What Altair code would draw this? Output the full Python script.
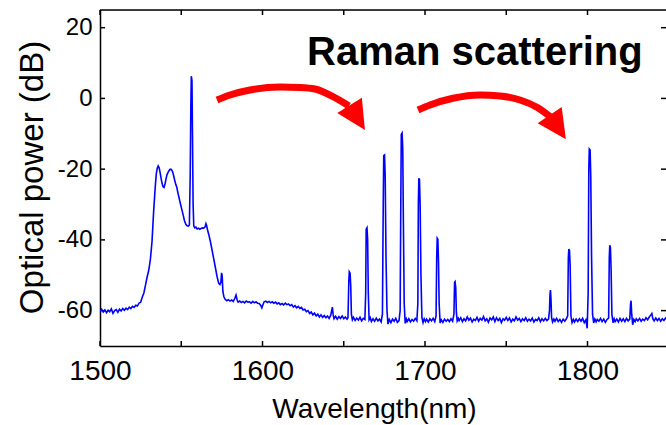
import altair as alt
import pandas as pd

FONT = "Liberation Sans"

# ---------------- data (wavelength nm, power dB) ----------------
pump_region = [
    (1500, -60.2), (1501, -59.6), (1502, -60.4), (1503, -59.8), (1504, -60.6), (1505, -59.9),
    (1506, -60.3), (1507, -59.5), (1508, -60.8), (1509, -60.0), (1510, -59.7), (1511, -60.5),
    (1512, -59.6), (1513, -60.1), (1514, -59.4), (1515, -59.9), (1516, -59.3), (1517, -59.7),
    (1518, -59.0), (1519, -59.4), (1520, -58.8), (1521, -59.1), (1522, -58.5), (1523, -58.7),
    (1524, -57.9), (1525, -57.6), (1526, -56.2), (1527, -55.0), (1528, -52.8), (1529, -50.5),
    (1530, -48.6), (1531, -45.5), (1532, -40.5), (1533, -32.0), (1534, -25.0), (1534.6, -21.5),
    (1535.2, -19.8), (1535.8, -19.1), (1536.4, -19.6), (1537, -21.0), (1537.6, -22.6),
    (1538.2, -24.0), (1538.8, -25.0), (1539.4, -25.2), (1540, -24.2), (1540.6, -22.8),
    (1541.2, -21.6), (1541.8, -21.0), (1542.4, -20.5), (1543, -20.1), (1543.6, -20.0),
    (1544.2, -20.3), (1544.8, -20.9), (1545.4, -22.0), (1546, -23.2), (1546.6, -24.3),
    (1547.2, -25.0), (1548, -26.8), (1548.8, -28.4), (1549.6, -30.0), (1550.4, -31.5),
    (1551.2, -33.0), (1552, -34.6), (1552.8, -35.6), (1553.6, -36.0), (1554.4, -36.1),
    (1555.0, -35.8), (1555.5, -22.0), (1555.9, -2.0), (1556.2, 6.3), (1556.6, 5.0),
    (1556.9, -10.0), (1557.3, -30.0), (1557.7, -36.0), (1558.3, -36.6), (1559, -36.4),
    (1559.8, -36.9), (1560.6, -36.7), (1561.4, -37.0), (1562.2, -36.8), (1563, -36.6),
    (1563.8, -36.7), (1564.6, -36.4), (1565.2, -35.4), (1565.6, -35.9), (1566.2, -37.2),
    (1567, -38.6), (1568, -40.6), (1569, -43.0), (1570, -45.4), (1571, -47.8), (1572, -50.3),
    (1573, -52.2), (1573.8, -52.6), (1574.4, -52.0), (1574.8, -49.3), (1575.2, -50.2),
    (1575.6, -54.5), (1576.2, -56.0), (1577, -56.8), (1578, -57.2), (1579, -56.9),
    (1580, -57.3), (1581, -57.0), (1582, -57.4), (1583, -56.5), (1583.7, -55.6),
    (1584.4, -57.0), (1585, -57.6), (1586, -57.3), (1587, -57.7), (1588, -57.4),
    (1589, -57.8), (1590, -57.3), (1591, -57.6), (1592, -57.5), (1593, -57.9), (1594, -57.4),
    (1595, -57.8), (1596, -57.5), (1597, -57.9), (1598, -58.0), (1599, -58.6),
    (1599.6, -59.2), (1600.2, -58.4), (1601, -57.5), (1602, -57.3), (1603, -57.7),
]

mid_baseline = [
    (1604, -57.4), (1605, -57.8), (1606, -57.5), (1607, -57.9), (1608, -57.6), (1609, -58.1),
    (1610, -57.8), (1611, -58.3), (1612, -58.0), (1613, -58.4), (1614, -57.9), (1615, -58.3),
    (1616, -58.1), (1617, -58.6), (1618, -58.3), (1619, -59.0), (1620, -58.6), (1621, -59.2),
    (1622, -58.8), (1623, -59.4), (1624, -59.1), (1625, -59.8), (1626, -59.6), (1627, -60.3),
    (1628, -60.0), (1629, -60.8), (1630, -60.4), (1631, -61.2), (1632, -60.7), (1633, -61.5),
    (1634, -61.0), (1635, -61.8), (1636, -61.2), (1637, -61.9), (1638, -61.4), (1639, -62.0),
    (1640, -61.5), (1641, -62.2), (1642, -61.3), (1643, -59.0), (1643.5, -61.2), (1644, -62.3),
    (1645, -61.6), (1646, -62.4), (1647, -61.7), (1648, -62.2), (1649, -61.5), (1650, -62.3),
    (1651, -61.8), (1652, -62.4),
]

stokes_1 = [
    (1652.6, -62.0), (1653.1, -52.0), (1653.4, -49.0), (1653.9, -49.4), (1654.3, -53.0),
    (1654.7, -61.0), (1655.3, -62.6), (1656, -61.9), (1657, -62.8), (1658, -62.1),
    (1659, -62.7), (1660, -61.9), (1661, -62.9), (1662, -62.2), (1663, -62.5),
    (1663.5, -55.0), (1663.8, -37.0), (1664.3, -36.6), (1664.7, -40.0), (1665.1, -55.0),
    (1665.6, -62.6), (1666.3, -62.0), (1667, -63.1), (1668, -62.3), (1669, -63.0),
    (1670, -62.1), (1671, -62.9), (1672, -62.4), (1673, -63.2), (1673.8, -61.0),
    (1674.3, -30.0), (1674.6, -16.2), (1675.1, -16.0), (1675.5, -22.0), (1676.0, -45.0),
    (1676.6, -60.0), (1677.2, -63.8), (1678, -62.5), (1679, -63.4), (1680, -62.4),
    (1681, -63.0), (1682, -62.2), (1683, -63.3), (1684, -62.8), (1684.7, -60.0),
    (1685.1, -30.0), (1685.4, -10.2), (1685.9, -9.8), (1686.3, -14.0), (1686.7, -35.0),
    (1687.2, -58.0), (1687.8, -63.6), (1688.5, -62.4), (1689, -63.1), (1690, -62.3),
    (1691, -63.2), (1692, -62.5), (1693, -63.0), (1694, -62.2), (1695, -62.9),
    (1695.6, -58.0), (1695.9, -30.0), (1696.2, -22.6), (1696.6, -23.0), (1697.0, -30.0),
    (1697.5, -50.0), (1698.1, -62.0), (1698.8, -63.4), (1699.5, -62.3), (1700.3, -63.1),
    (1701, -62.4), (1702, -63.2), (1703, -62.3), (1704, -62.9), (1705, -62.2),
    (1706, -63.1), (1706.8, -61.5), (1707.2, -45.0), (1707.5, -39.5), (1707.9, -39.8),
    (1708.3, -46.0), (1708.7, -58.0), (1709.3, -63.5), (1710, -62.6), (1711, -63.3),
    (1712, -62.4), (1713, -63.0), (1714, -62.5), (1715, -63.1), (1716, -62.3),
    (1717, -63.0), (1717.8, -61.0), (1718.2, -52.0), (1718.5, -51.8), (1718.9, -53.5),
    (1719.3, -60.5), (1719.8, -62.9), (1720.5, -62.2),
]

gap_baseline = [
    (1721, -62.8), (1722, -62.0), (1723, -63.1), (1724, -62.3), (1725, -62.9), (1726, -61.8),
    (1727, -62.7), (1728, -62.1), (1729, -63.2), (1730, -62.4), (1731, -62.8), (1732, -61.9),
    (1733, -63.0), (1734, -62.2), (1735, -62.7), (1736, -61.7), (1737, -62.9), (1738, -62.3),
    (1739, -63.3), (1740, -62.1), (1741, -62.6), (1742, -61.8), (1743, -63.1), (1744, -62.0),
    (1745, -62.8), (1746, -62.2), (1747, -63.4), (1748, -62.3), (1749, -62.7), (1750, -61.9),
    (1751, -62.8), (1752, -62.1), (1753, -63.2), (1754, -62.4), (1755, -62.9), (1756, -61.8),
    (1757, -62.7), (1758, -62.2), (1759, -63.1), (1760, -62.3), (1761, -62.8), (1762, -62.0),
    (1763, -63.0), (1764, -62.4), (1765, -62.9), (1766, -62.1), (1767, -63.2), (1768, -62.5),
    (1769, -62.8), (1770, -62.0), (1771, -63.1), (1772, -62.3), (1773, -62.9), (1774, -62.2),
    (1775, -62.8), (1776, -62.4),
]

stokes_2 = [
    (1776.6, -60.0), (1776.9, -55.5), (1777.2, -54.2), (1777.5, -56.5), (1777.9, -62.0),
    (1778.5, -63.2), (1779.3, -62.4), (1780, -63.0), (1781, -62.2), (1782, -63.1),
    (1783, -62.5), (1784, -63.3), (1785, -62.4), (1786, -63.0), (1787, -62.3),
    (1787.8, -61.5), (1788.2, -45.0), (1788.5, -42.6), (1788.9, -43.0), (1789.3, -47.0),
    (1789.8, -61.5), (1790.5, -63.4), (1791.3, -62.5), (1792, -63.2), (1793, -62.4),
    (1794, -63.1), (1795, -62.3), (1796, -63.0), (1797, -62.2), (1798, -63.4),
    (1799, -62.6), (1799.8, -65.0), (1800.4, -55.0), (1800.8, -20.0), (1801.1, -14.3),
    (1801.6, -14.6), (1802.0, -22.0), (1802.5, -45.0), (1803.1, -61.0), (1803.8, -63.5),
    (1804.5, -62.4), (1805.3, -63.2), (1806, -62.5), (1807, -63.0), (1808, -62.2),
    (1809, -63.1), (1810, -62.4), (1811, -63.3), (1812, -62.5), (1813, -62.1),
    (1813.4, -45.0), (1813.7, -41.5), (1814.1, -42.2), (1814.5, -48.0), (1815.0, -61.0),
    (1815.7, -63.4), (1816.4, -62.3), (1817, -63.1), (1818, -62.4), (1819, -63.2),
    (1820, -62.2), (1821, -63.0), (1822, -62.3), (1823, -63.1), (1824, -62.2),
    (1825, -62.9), (1826, -62.4), (1826.5, -58.0), (1826.8, -57.2), (1827.2, -61.0),
    (1827.8, -64.0), (1828.5, -62.5), (1829.3, -63.1), (1830, -62.3), (1831, -62.9),
    (1832, -62.2), (1833, -63.0), (1834, -62.4), (1835, -62.8), (1836, -62.0),
    (1837, -62.6), (1838, -61.8), (1839, -61.2), (1839.6, -60.8), (1840.2, -62.3),
    (1841, -62.9), (1842, -62.1), (1843, -62.8), (1844, -62.2), (1845, -63.0),
    (1846, -62.3), (1847, -62.8), (1848, -62.1), (1849, -62.7), (1850, -62.2),
]

x_label_ticks = [1500, 1600, 1700, 1800]
x_all_ticks = [1500, 1550, 1600, 1650, 1700, 1750, 1800]
y_ticks = [-60, -40, -20, 0, 20]

# annotation arrows (data coordinates)
arrow1_wl = [1572.0, 1580.0, 1592.3, 1610.8, 1623.1, 1632.3, 1643.4, 1653.2]
arrow1_db = [-0.45, 0.97, 2.38, 3.23, 3.09, 2.67, 0.49, -2.14]
arrow2_wl = [1695.7, 1703.1, 1717.2, 1733.8, 1746.2, 1758.5, 1768.9, 1776.9]
arrow2_db = [-3.27, -1.86, 0.04, 0.97, 0.69, -0.45, -2.51, -5.11]
head1_wl, head1_db = [1658.3], [-5.46]
head2_wl, head2_db = [1781.7], [-8.15]
label_wl, label_db = [1627.4], [9.45]
label_text = ["Raman scattering"]

# ---------------- layout ----------------
W, H = 566, 336
X_DOMAIN = [1500, 1848.3]
Y_DOMAIN = [-70, 25]

xs = alt.Scale(domain=X_DOMAIN, nice=False, zero=False)
ys = alt.Scale(domain=Y_DOMAIN, nice=False, zero=False)

x_axis = alt.Axis(
    values=x_label_ticks, title="Wavelength(nm)", ticks=False, tickSize=0, grid=False,
    domain=True, domainColor="black", domainWidth=1.5,
    labelExpr="'' + datum.value",
    labelFont=FONT, labelFontSize=28, labelColor="black", labelPadding=11,
    labelFlush=False, labelOverlap=False,
    titleFont=FONT, titleFontSize=28, titleFontWeight="normal", titleColor="black",
    titleX=274, titleY=71, titleBaseline="alphabetic", titleAlign="center",
)
y_axis = alt.Axis(
    values=y_ticks, title="Optical power (dB)", ticks=False, tickSize=0, grid=False,
    domain=True, domainColor="black", domainWidth=1.5,
    labelExpr="'' + datum.value",
    labelFont=FONT, labelFontSize=24, labelColor="black", labelPadding=8,
    labelFlush=False, labelOverlap=False,
    titleFont=FONT, titleFontSize=33, titleFontWeight="normal", titleColor="black",
    titleX=-58, titleY=167, titleBaseline="alphabetic", titleAlign="center", titleAngle=270,
)

X = alt.X("wl:Q", scale=xs, axis=x_axis)
Y = alt.Y("db:Q", scale=ys, axis=y_axis)

spec_df = pd.DataFrame(pump_region + mid_baseline + stokes_1 + gap_baseline + stokes_2,
                       columns=["wl", "db"])
xt_df = pd.DataFrame({"wl": x_all_ticks})
yt_df = pd.DataFrame({"db": y_ticks})
one = pd.DataFrame({"k": [0]})

top_border = alt.Chart(one).mark_rule(color="black", strokeWidth=1.5).encode(
    x=alt.value(0), x2=alt.value(W), y=alt.value(0))
bottom_ticks = alt.Chart(xt_df).mark_rule(color="black", strokeWidth=1.5).encode(
    x=X, y=alt.value(H), y2=alt.value(H - 5))
top_ticks = alt.Chart(xt_df).mark_rule(color="black", strokeWidth=1.5).encode(
    x=X, y=alt.value(0), y2=alt.value(5))
left_ticks = alt.Chart(yt_df).mark_rule(color="black", strokeWidth=1.5).encode(
    y=Y, x=alt.value(0), x2=alt.value(5))
right_ticks = alt.Chart(yt_df).mark_rule(color="black", strokeWidth=1.5).encode(
    y=Y, x=alt.value(W - 5), x2=alt.value(W))

spectrum = alt.Chart(spec_df).mark_line(color="#0000ff", strokeWidth=1.6, clip=True).encode(
    x=X, y=Y, order="wl:Q")

a1_df = pd.DataFrame({"wl": arrow1_wl, "db": arrow1_db, "i": range(len(arrow1_wl))})
a2_df = pd.DataFrame({"wl": arrow2_wl, "db": arrow2_db, "i": range(len(arrow2_wl))})
arrow1 = alt.Chart(a1_df).mark_line(color="#ff0000", strokeWidth=7, strokeCap="butt",
                                    interpolate="monotone").encode(x=X, y=Y, order="i:Q")
arrow2 = alt.Chart(a2_df).mark_line(color="#ff0000", strokeWidth=7, strokeCap="butt",
                                    interpolate="monotone").encode(x=X, y=Y, order="i:Q")

TRI = "M0,-1L-1,1L1,1Z"
head1 = alt.Chart(pd.DataFrame({"wl": head1_wl, "db": head1_db})).mark_point(
    shape=TRI, filled=True, color="#ff0000", size=841, angle=148, opacity=1, strokeWidth=0
).encode(x=X, y=Y)
head2 = alt.Chart(pd.DataFrame({"wl": head2_wl, "db": head2_db})).mark_point(
    shape=TRI, filled=True, color="#ff0000", size=841, angle=146, opacity=1, strokeWidth=0
).encode(x=X, y=Y)

label = alt.Chart(pd.DataFrame({"wl": label_wl, "db": label_db, "t": label_text})).mark_text(
    align="left", baseline="alphabetic", font=FONT, fontSize=40, fontWeight="bold", color="black"
).encode(x=X, y=Y, text="t:N")

chart = alt.layer(
    top_border, bottom_ticks, top_ticks, left_ticks, right_ticks,
    spectrum, arrow1, arrow2, head1, head2, label,
).properties(
    width=W, height=H, autosize="none",
    padding={"left": 100, "top": 10, "right": 0, "bottom": 79},
).configure_view(stroke=None).configure(background="white")

chart.save("out.html", embed_options={"renderer": "svg", "actions": False})
